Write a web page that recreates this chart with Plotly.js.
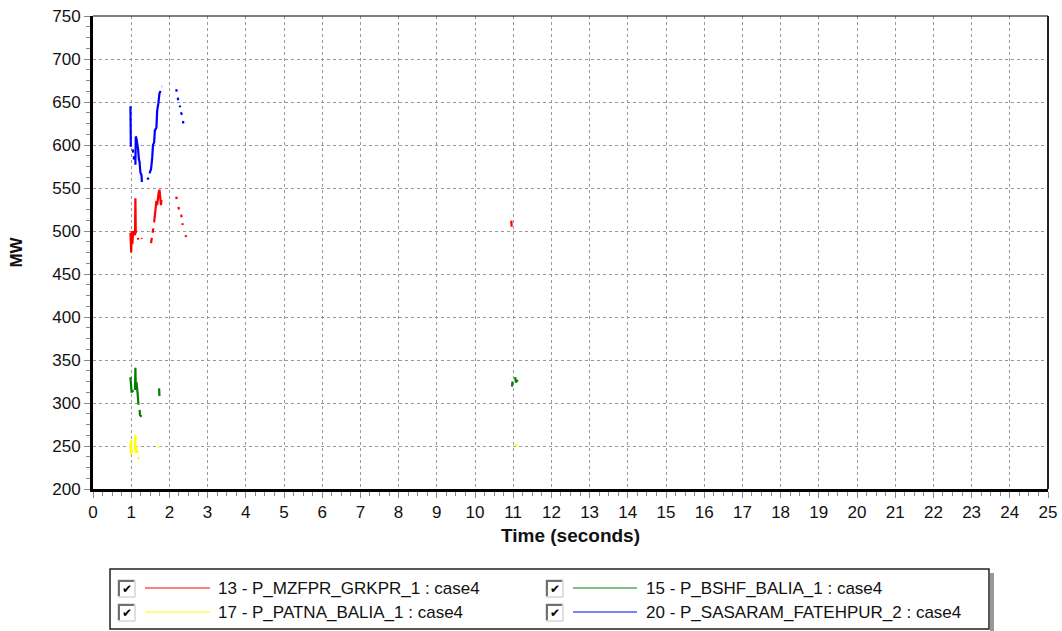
<!DOCTYPE html>
<html>
<head>
<meta charset="utf-8">
<script src="https://cdn.plot.ly/plotly-3.0.1.min.js"></script>
<style>html,body{margin:0;padding:0;background:#fff;}#chart{width:1062px;height:631px;}</style>
</head>
<body>
<div id="chart"></div>
<script>
// ---- data (time in seconds, MW); null = gap in the recorded trace ----
var seriesNames = [
  "13 - P_MZFPR_GRKPR_1 : case4",
  "15 - P_BSHF_BALIA_1 : case4",
  "17 - P_PATNA_BALIA_1 : case4",
  "20 - P_SASARAM_FATEHPUR_2 : case4"
];
var redX = [0.98,0.99,1.00,1.01,1.02,1.03,1.05,1.06,1.08,1.10,1.11,1.12,1.12,null,1.17,1.19,null,1.27,1.28,null,1.52,1.54,null,1.56,1.58,null,1.60,1.62,1.64,1.66,1.68,1.70,1.72,1.74,1.76,1.78,1.79,null,2.18,2.19,null,2.24,2.25,null,2.31,2.32,null,2.34,2.35,null,2.42,2.44,null,10.95,10.96];
var redY = [498,480,475,490,500,485,498,495,500,495,538,500,497,null,492,490,null,492,491,null,486,492,null,498,503,null,510,520,524,535,530,540,545,548,540,530,536,null,540,537,null,528,525,null,519,516,null,509,507,null,495,493,null,512,505];

var greenX = [0.98,0.99,1.00,1.01,1.03,1.05,null,1.10,1.11,1.12,1.14,1.15,1.17,1.19,null,1.22,1.23,1.27,null,1.73,1.74,null,10.97,10.98,null,11.05,11.07,11.12];
var greenY = [330,318,326,312,315,313,null,315,341,320,324,313,310,298,null,292,286,284,null,317,308,null,319,325,null,330,324,327];

var yellowX = [0.98,0.99,1.00,1.01,null,1.10,1.11,1.12,1.13,null,1.16,1.17,null,1.17,1.21,null,1.73,1.74,null,11.07,11.09];
var yellowY = [255,240,257,242,null,245,263,242,250,null,245,242,null,237,235,null,250,248,null,252,249];

var blueX = [0.98,0.99,0.99,null,1.04,1.05,null,1.07,1.07,null,1.11,1.12,1.12,1.14,1.15,1.18,1.20,1.22,1.24,1.27,1.28,null,1.42,1.46,null,1.48,1.52,1.55,1.57,1.60,1.62,1.66,1.68,1.71,1.74,1.77,null,1.80,1.81,null,2.18,2.19,null,2.22,2.23,null,2.27,2.28,null,2.30,2.33,null,2.36,2.36];
var blueY = [645,620,598,null,595,591,null,587,583,null,577,595,610,607,605,595,584,580,568,565,557,null,560,562,null,567,572,585,600,603,617,620,640,648,660,663,null,668,668,null,665,662,null,655,652,null,646,644,null,638,635,null,628,625];

var xTickVals = [0,1,2,3,4,5,6,7,8,9,10,11,12,13,14,15,16,17,18,19,20,21,22,23,24,25];
var yTickVals = [200,250,300,350,400,450,500,550,600,650,700,750];

// ---- styling ----
var colors = ["#ff0000", "#008000", "#ffff00", "#0000ff"];
var FONT = "Liberation Sans, Arial, sans-serif";
var W = 1062, H = 631;
var L = 93, R = 1048, T = 16, B = 489;
function px(x){ return (x - L) / (R - L); }
function py(y){ return (B - y) / (B - T); }

var traces = [
  {x: redX, y: redY, color: colors[0]},
  {x: greenX, y: greenY, color: colors[1]},
  {x: yellowX, y: yellowY, color: colors[2]},
  {x: blueX, y: blueY, color: colors[3]}
].map(function(s, i){
  return {x: s.x, y: s.y, type: "scatter", mode: "lines", name: seriesNames[i],
          connectgaps: false, line: {color: s.color, width: 2.2}, hoverinfo: "skip"};
});
// draw order: yellow, green, red, blue
traces = [traces[2], traces[1], traces[0], traces[3]];

var shapes = [
  // top and right border of plot area
  {type: "line", xref: "paper", yref: "paper", x0: 0, x1: 1, y0: 1, y1: 1, line: {color: "#000", width: 1}},
  {type: "line", xref: "paper", yref: "paper", x0: 1, x1: 1, y0: 0, y1: 1, line: {color: "#222", width: 2}},
  // legend shadow
  {type: "line", xref: "paper", yref: "paper", x0: px(992), x1: px(992), y0: py(573), y1: py(631), line: {color: "#999", width: 4}},
  // legend box
  {type: "rect", xref: "paper", yref: "paper", x0: px(110), x1: px(989), y0: py(569), y1: py(629), line: {color: "#222", width: 1.5}, fillcolor: "#fff"}
];
var annotations = [];
var legendPos = [
  {cx: 118, lx0: 145, lx1: 210, tx: 216, y: 588, i: 0},
  {cx: 546, lx0: 573, lx1: 637, tx: 644, y: 588, i: 1},
  {cx: 118, lx0: 145, lx1: 210, tx: 216, y: 612, i: 2},
  {cx: 546, lx0: 573, lx1: 637, tx: 644, y: 612, i: 3}
];
legendPos.forEach(function(p){
  // checkbox (sunken 3D)
  shapes.push({type: "rect", xref: "paper", yref: "paper", x0: px(p.cx), x1: px(p.cx + 17), y0: py(p.y - 8), y1: py(p.y + 9), line: {color: "#c0c0c0", width: 1}, fillcolor: "#fff"});
  shapes.push({type: "path", xref: "paper", yref: "paper",
    path: "M " + px(p.cx + 1) + " " + py(p.y + 8) + " L " + px(p.cx + 1) + " " + py(p.y - 7) + " L " + px(p.cx + 16) + " " + py(p.y - 7),
    line: {color: "#707070", width: 2}});
  annotations.push({xref: "paper", yref: "paper", x: px(p.cx + 9), y: py(p.y + 1), text: "<b>✔</b>", showarrow: false,
    font: {family: "DejaVu Sans", size: 12, color: "#000"}, xanchor: "center", yanchor: "middle"});
  // line sample
  shapes.push({type: "line", xref: "paper", yref: "paper", x0: px(p.lx0), x1: px(p.lx1), y0: py(p.y), y1: py(p.y), line: {color: colors[p.i], width: 1.2}});
  annotations.push({xref: "paper", yref: "paper", x: px(p.tx), y: py(p.y), text: seriesNames[p.i], showarrow: false,
    font: {family: FONT, size: 17, color: "#111"}, xanchor: "left", yanchor: "middle"});
});

var layout = {
  width: W, height: H,
  margin: {l: L, r: W - R, t: T, b: H - B, pad: 0},
  paper_bgcolor: "#fff", plot_bgcolor: "#fff",
  showlegend: false, hovermode: false,
  font: {family: FONT, size: 17, color: "#111"},
  xaxis: {
    range: [0, 25], tickvals: xTickVals, ticktext: xTickVals.map(String),
    showgrid: true, gridcolor: "#999", griddash: "dot", gridwidth: 1,
    zeroline: false, showline: true, linecolor: "#000", linewidth: 3,
    ticks: "outside", ticklen: 6, tickwidth: 1, tickcolor: "#888",
    minor: {dtick: 0.25, ticks: "outside", ticklen: 4, tickwidth: 1, tickcolor: "#888", showgrid: false},
    tickfont: {family: FONT, size: 17, color: "#111"},
    title: {text: "<b>Time (seconds)</b>", font: {family: FONT, size: 19, color: "#111"}, standoff: 8},
    fixedrange: true
  },
  yaxis: {
    range: [200, 750], tickvals: yTickVals, ticktext: yTickVals.map(String),
    showgrid: true, gridcolor: "#999", griddash: "dot", gridwidth: 1,
    zeroline: false, showline: true, linecolor: "#000", linewidth: 3,
    ticks: "outside", ticklen: 6, tickwidth: 1, tickcolor: "#888",
    minor: {dtick: 12.5, ticks: "outside", ticklen: 4, tickwidth: 1, tickcolor: "#888", showgrid: false},
    tickfont: {family: FONT, size: 17, color: "#111"},
    title: {text: "<b>MW</b>", font: {family: FONT, size: 17, color: "#111"}, standoff: 26},
    fixedrange: true
  },
  shapes: shapes,
  annotations: annotations
};

Plotly.newPlot("chart", traces, layout, {displayModeBar: false, staticPlot: true});
</script>
</body>
</html>
